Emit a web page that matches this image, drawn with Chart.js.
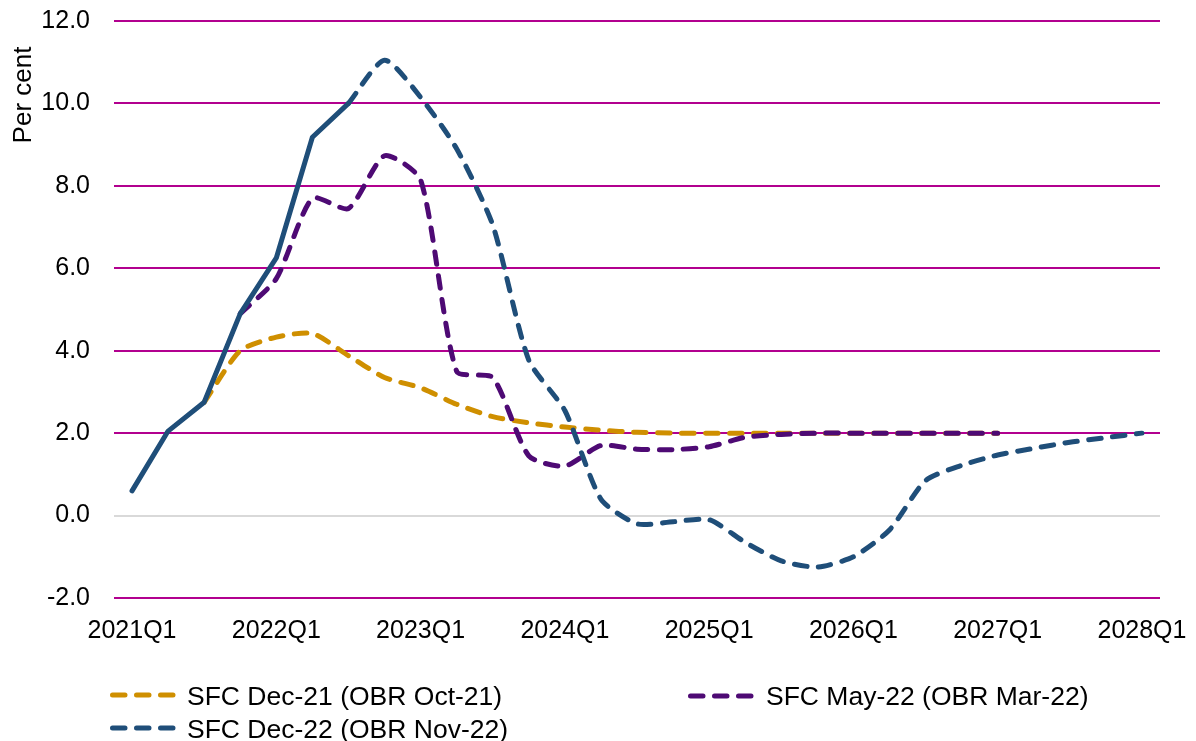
<!DOCTYPE html>
<html>
<head>
<meta charset="utf-8">
<script src="https://cdn.jsdelivr.net/npm/chart.js@4.4.1/dist/chart.umd.min.js"></script>
<style>
  html, body { margin: 0; padding: 0; background: #ffffff; }
  #wrap { position: relative; width: 1196px; height: 741px; overflow: hidden; font-family: "Liberation Sans", Arial, sans-serif; }
  #c { position: absolute; left: 0; top: 0; }
  .lg-swatch { position: absolute; }
  .lg-text { position: absolute; font-size: 26.5px; line-height: 30px; color: #000; white-space: nowrap; }
</style>
</head>
<body>
<div id="wrap">
  <canvas id="c" width="1196" height="741"></canvas>
  <svg class="lg-swatch" style="left:110px;top:690px" width="66" height="10"><line x1="2.5" y1="5" x2="63.5" y2="5" stroke="#CF8F00" stroke-width="5" stroke-linecap="round" stroke-dasharray="12.5 11.5"/></svg>
  <div class="lg-text" style="left:187px;top:681px">SFC Dec-21 (OBR Oct-21)</div>
  <svg class="lg-swatch" style="left:688px;top:691px" width="66" height="10"><line x1="2.5" y1="5" x2="63.5" y2="5" stroke="#4E0A74" stroke-width="5" stroke-linecap="round" stroke-dasharray="12.5 11.5"/></svg>
  <div class="lg-text" style="left:766px;top:681px">SFC May-22 (OBR Mar-22)</div>
  <svg class="lg-swatch" style="left:110px;top:723px" width="66" height="10"><line x1="2.5" y1="5" x2="63.5" y2="5" stroke="#1F4E79" stroke-width="5" stroke-linecap="round" stroke-dasharray="12.5 11.5"/></svg>
  <div class="lg-text" style="left:187px;top:714px">SFC Dec-22 (OBR Nov-22)</div>
</div>
<script>
// ---- Data ----
const quarters = [
  '2021Q1','2021Q2','2021Q3','2021Q4',
  '2022Q1','2022Q2','2022Q3','2022Q4',
  '2023Q1','2023Q2','2023Q3','2023Q4',
  '2024Q1','2024Q2','2024Q3','2024Q4',
  '2025Q1','2025Q2','2025Q3','2025Q4',
  '2026Q1','2026Q2','2026Q3','2026Q4',
  '2027Q1','2027Q2','2027Q3','2027Q4',
  '2028Q1'
];
const tickLabels = ['2021Q1','2022Q1','2023Q1','2024Q1','2025Q1','2026Q1','2027Q1','2028Q1'];

const sfcDec21 = [null, null, 2.75, 4.0, 4.33, 4.42, 3.88, 3.35, 3.1, 2.7, 2.4, 2.25, 2.15, 2.07, 2.02, 2.0, 2.0, 2.0, 2.0, 2.0, 2.0, 2.0, 2.0, 2.0, 2.0, null, null, null, null];
const sfcMay22 = [null, null, null, 4.9, 5.75, 7.7, 7.45, 8.73, 8.15, 3.5, 3.35, 1.45, 1.2, 1.7, 1.61, 1.6, 1.67, 1.9, 1.97, 2.0, 2.0, 2.0, 2.0, 2.0, 2.0, null, null, null, null];
const sfcDec22 = [0.6, 2.05, 2.75, 4.9, 6.25, 9.18, 10.0, 11.05, 10.15, 8.9, 7.05, 3.77, 2.55, 0.4, -0.2, -0.15, -0.1, -0.65, -1.1, -1.25, -1.0, -0.35, 0.85, 1.22, 1.47, 1.63, 1.78, 1.89, 2.0];
const lastOutturnIndex = 6; // 2022Q3: solid line up to here

const seriesNames = ['SFC Dec-21 (OBR Oct-21)', 'SFC May-22 (OBR Mar-22)', 'SFC Dec-22 (OBR Nov-22)'];

// ---- Styling ----
const FONT = '"Liberation Sans", Arial, sans-serif';
const GOLD = '#CF8F00', PURPLE = '#4E0A74', BLUE = '#1F4E79';
const GRID = '#B2008F', ZERO = '#D9D9D9';
const DASH = [12.5, 11.5];

const dec22Outturn = sfcDec22.map((v, i) => i <= lastOutturnIndex ? v : null);
const dec22Forecast = sfcDec22.map((v, i) => i >= lastOutturnIndex ? v : null);

const lineBase = { pointRadius: 0, pointHoverRadius: 0, borderWidth: 5, borderCapStyle: 'round', borderJoinStyle: 'round', fill: false };

const axisTitlePlugin = {
  id: 'axisTitle',
  afterDraw(chart) {
    const ctx = chart.ctx;
    ctx.save();
    ctx.translate(31, 95);
    ctx.rotate(-Math.PI / 2);
    ctx.font = '26px ' + FONT;
    ctx.fillStyle = '#000';
    ctx.textAlign = 'center';
    ctx.textBaseline = 'alphabetic';
    ctx.fillText('Per cent', 0, 0);
    ctx.restore();
  }
};

new Chart(document.getElementById('c'), {
  type: 'line',
  data: {
    labels: quarters,
    datasets: [
      Object.assign({ label: seriesNames[2], data: dec22Outturn, borderColor: BLUE, tension: 0 }, lineBase),
      Object.assign({ label: seriesNames[2], data: dec22Forecast, borderColor: BLUE, borderDash: DASH, tension: 0.22 }, lineBase),
      Object.assign({ label: seriesNames[1], data: sfcMay22, borderColor: PURPLE, borderDash: DASH, tension: 0.22 }, lineBase),
      Object.assign({ label: seriesNames[0], data: sfcDec21, borderColor: GOLD, borderDash: DASH, tension: 0.22 }, lineBase)
    ]
  },
  options: {
    responsive: false,
    animation: false,
    events: [],
    layout: { padding: { left: 0, right: 36, top: 21, bottom: 83 } },
    plugins: { legend: { display: false }, tooltip: { enabled: false }, title: { display: false } },
    scales: {
      x: {
        type: 'category',
        offset: true,
        grid: { display: false, drawTicks: false },
        border: { display: false },
        ticks: {
          autoSkip: false,
          maxRotation: 0,
          minRotation: 0,
          padding: 18,
          color: '#000',
          font: { family: FONT, size: 25 },
          callback: function (value, index) {
            const q = quarters[index];
            return tickLabels.includes(q) ? q : '';
          }
        },
        afterFit(scale) { scale.height = 60; scale.paddingLeft = 0; scale.paddingRight = 0; }
      },
      y: {
        min: -2,
        max: 12,
        grid: {
          drawTicks: false,
          lineWidth: 2,
          color: (ctx) => (ctx.tick && ctx.tick.value === 0) ? ZERO : GRID
        },
        border: { display: false },
        ticks: {
          stepSize: 2,
          padding: 24,
          color: '#000',
          font: { family: FONT, size: 25 },
          callback: (v) => Number(v).toFixed(1)
        },
        afterFit(scale) { scale.width = 114; scale.paddingTop = 0; scale.paddingBottom = 0; }
      }
    }
  },
  plugins: [axisTitlePlugin]
});
</script>
</body>
</html>
